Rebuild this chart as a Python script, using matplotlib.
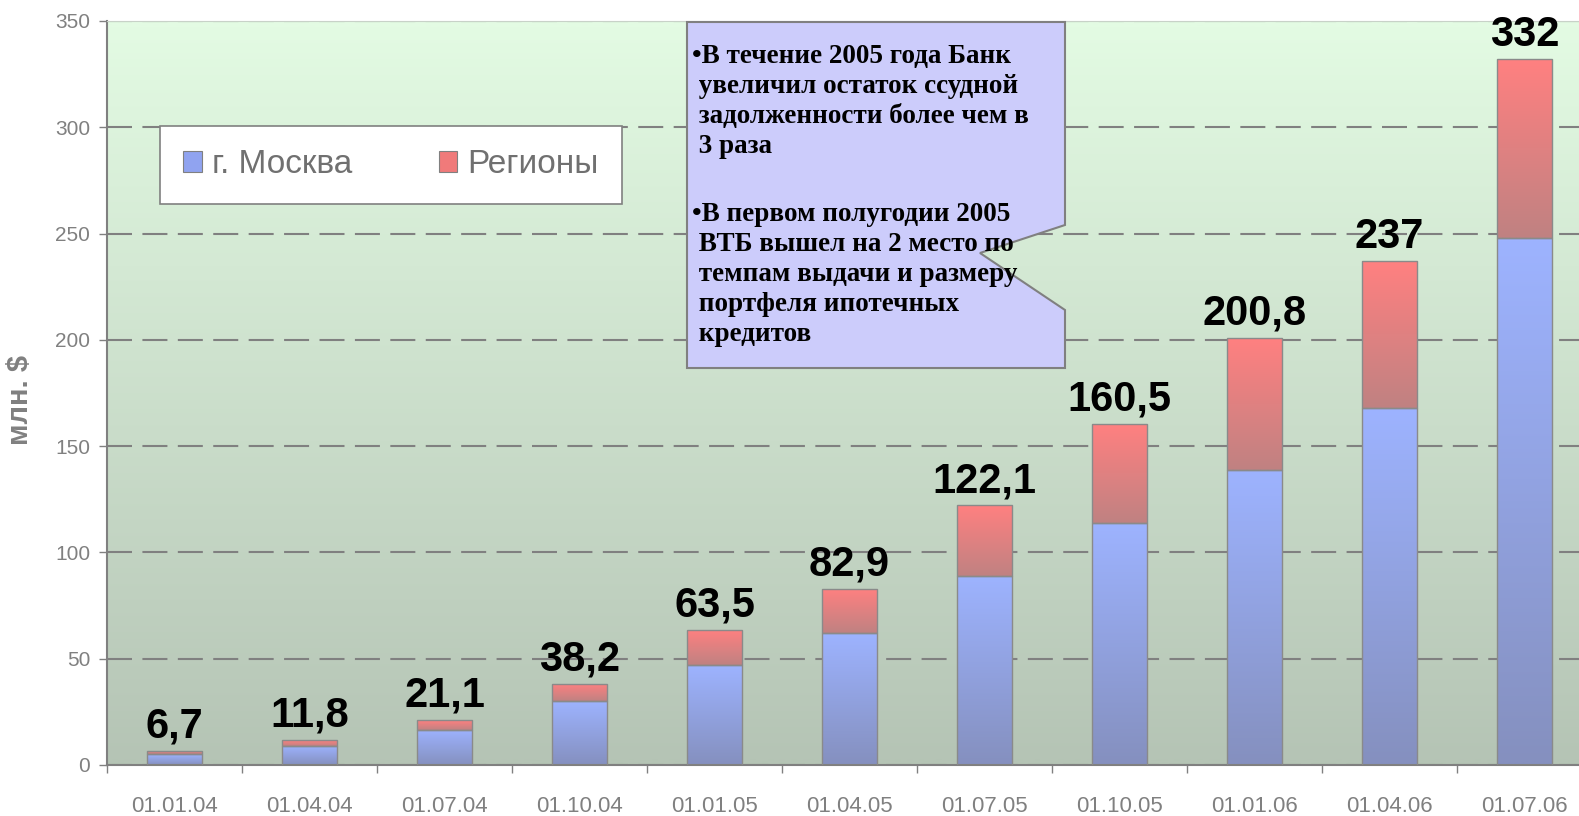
import numpy as np
import matplotlib.pyplot as plt
from matplotlib.patches import Patch, Polygon

# data
dates = ['01.01.04', '01.04.04', '01.07.04', '01.10.04', '01.01.05', '01.04.05',
         '01.07.05', '01.10.05', '01.01.06', '01.04.06', '01.07.06']
totals = np.array([6.7, 11.8, 21.1, 38.2, 63.5, 82.9, 122.1, 160.5, 200.8, 237, 332])
moscow = np.array([5, 9, 16.5, 30, 47, 62, 89, 114, 139, 168, 248])
regions = totals - moscow
series_names = ['г. Москва', 'Регионы']
yticks = [0, 50, 100, 150, 200, 250, 300, 350]

note1 = ("•В течение 2005 года Банк\n"
         " увеличил остаток ссудной\n"
         " задолженности более чем в\n"
         " 3 раза")
note2 = ("•В первом полугодии 2005\n"
         " ВТБ вышел на 2 место по\n"
         " темпам выдачи и размеру\n"
         " портфеля ипотечных\n"
         " кредитов")

W, H = 1579, 816
gray = '#808080'
bw = 0.41


def vgrad(top, bottom, n=64):
    t = plt.matplotlib.colors.to_rgb(top)
    b = plt.matplotlib.colors.to_rgb(bottom)
    f = np.linspace(0, 1, n).reshape(-1, 1)
    img = np.array(t) * (1 - f) + np.array(b) * f
    return img.reshape(n, 1, 3)


def grad_bar(ax, x, bottom, height, top_col, bot_col):
    rect = ax.bar(x, height, bw, bottom=bottom, facecolor='none',
                  edgecolor='#8a8a8a', lw=1.0, zorder=3)[0]
    im = ax.imshow(vgrad(top_col, bot_col), extent=[x - bw / 2, x + bw / 2, bottom, bottom + height],
                   aspect='auto', origin='upper', zorder=2, interpolation='bilinear')
    im.set_clip_path(rect)


fig = plt.figure(figsize=(W / 100, H / 100), dpi=100)
ax = fig.add_axes([107 / W, 51 / H, 1485 / W, 744 / H])

x = np.arange(len(dates))

# background gradient
ax.imshow(vgrad('#e3fbe3', '#b5c4b5'), extent=[-0.5, 10.5, 0, 350], aspect='auto',
          origin='upper', zorder=0, interpolation='bilinear')

for i in range(len(x)):
    grad_bar(ax, x[i], 0, moscow[i], '#9db3ff', '#8590bf')
    grad_bar(ax, x[i], moscow[i], regions[i], '#ff8080', '#c08282')
    lab = f"{totals[i]:g}".replace('.', ',')
    ax.annotate(lab, (x[i], totals[i]), xytext=(0, 3), textcoords='offset points',
                ha='center', va='bottom', fontsize=30, fontweight='bold',
                family='Liberation Sans', color='black', zorder=6)

ax.set_xlim(-0.5, 10.5)
ax.set_ylim(0, 350)

ax.set_axisbelow(True)
ax.yaxis.grid(True, color=gray, lw=1.5, linestyle=(0, (12, 5)))
ax.xaxis.grid(False)

ax.set_yticks(yticks)
ax.set_yticklabels([str(v) for v in yticks], family='Liberation Sans', fontsize=15, color=gray)
ax.tick_params(axis='y', length=6, width=1, color=gray, pad=6)

ax.set_xticks(x)
ax.set_xticklabels(dates, family='Liberation Sans', fontsize=16, color=gray)
ax.tick_params(axis='x', which='major', length=0, pad=22)
ax.set_xticks(np.arange(-0.5, 11, 1), minor=True)
ax.tick_params(axis='x', which='minor', length=6, width=1, color=gray, direction='out')

for s in ['left', 'bottom']:
    ax.spines[s].set_color(gray)
    ax.spines[s].set_linewidth(1.5)
ax.spines['top'].set_color('#c8d2c8')
ax.spines['right'].set_visible(False)

ax.set_ylabel('млн. $', family='Liberation Sans', fontsize=21, fontweight='bold', color=gray)
ax.yaxis.set_label_coords(-0.049, 0.49)

handles = [Patch(facecolor='#90a3f0', edgecolor=gray, lw=0.8),
           Patch(facecolor='#f07a7a', edgecolor=gray, lw=0.8)]
leg = ax.legend(handles, series_names, loc='upper left', ncol=2, mode='expand',
                bbox_to_anchor=(53 / 1485, 564 / 744, 462 / 1485, 75 / 744),
                borderaxespad=0, borderpad=0.7, handlelength=0.55, handleheight=0.55,
                handletextpad=0.3, columnspacing=1.5, fancybox=False, framealpha=1,
                prop={'family': 'Liberation Sans', 'size': 24})
leg.get_frame().set_edgecolor(gray)
leg.get_frame().set_linewidth(1.2)
for t in leg.get_texts():
    t.set_color('#707070')
leg.set_zorder(7)

# callout box
pts = [(687, 22), (1065, 22), (1065, 225), (980, 253), (1065, 310), (1065, 368), (687, 368)]
poly = Polygon([(px / W, 1 - py / H) for px, py in pts], closed=True, transform=fig.transFigure,
               facecolor='#ccccfb', edgecolor=gray, lw=1.5, zorder=10)
fig.patches.append(poly)
fig.text(692 / W, 1 - 44 / H, note1, family='Liberation Serif', fontweight='bold', fontsize=19.5,
         va='top', ha='left', linespacing=1.26, color='black', zorder=11)
fig.text(692 / W, 1 - 202 / H, note2, family='Liberation Serif', fontweight='bold', fontsize=19.5,
         va='top', ha='left', linespacing=1.26, color='black', zorder=11)

fig.savefig('out.png', dpi=100, facecolor='white')
